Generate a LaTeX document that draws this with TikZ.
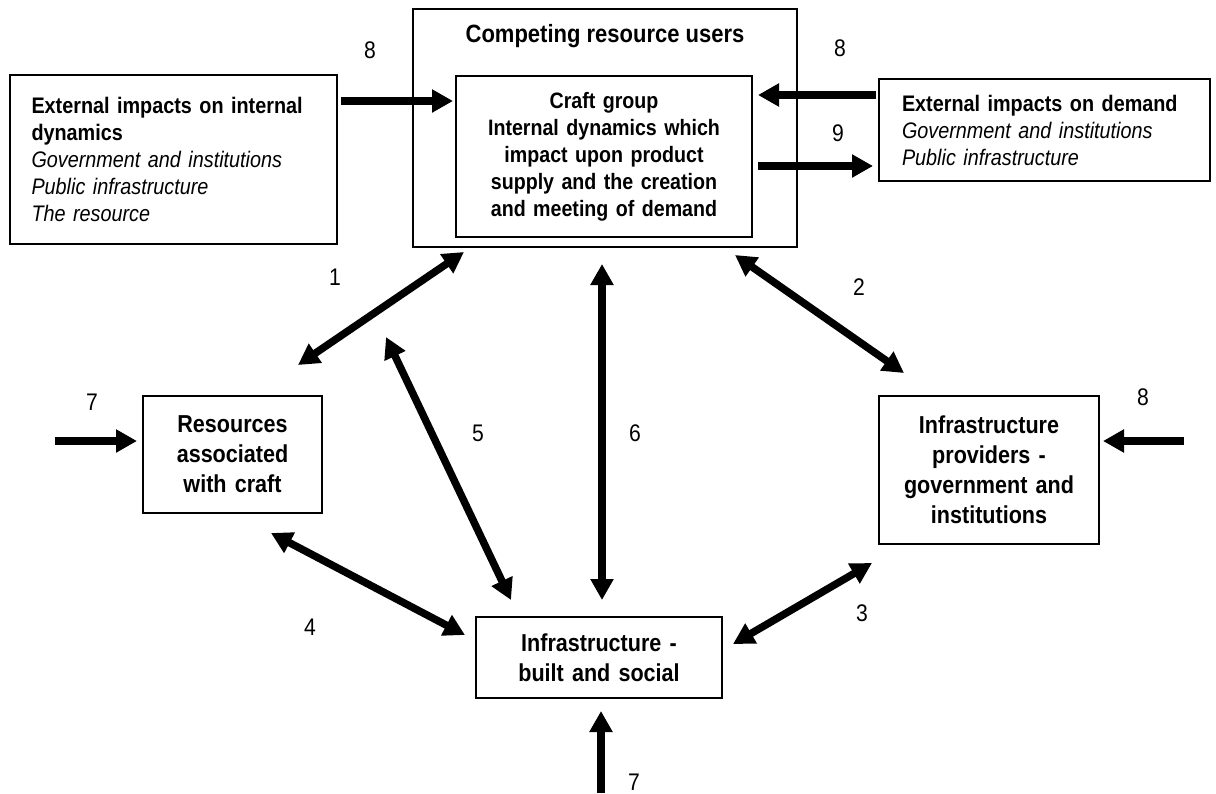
\documentclass[tikz,border=0pt]{standalone}
\usepackage{fontspec}
\setmainfont{Liberation Sans}[FakeStretch=0.88]
\usetikzlibrary{arrows.meta}
\begin{document}
\begin{tikzpicture}[x=1pt,y=-1pt,
  box/.style={draw, line width=1.6pt, inner sep=0pt, align=center},
  lowtext/.style={font=\bfseries\fontsize{24.5}{30}\selectfont},
  num/.style={font=\fontsize{24}{28}\selectfont, inner sep=0pt},
  tip/.style={Triangle[length=21pt,width=22pt]},
  flow/.style={line width=7.5pt, -{Triangle[length=21pt,width=22pt]}},
  both/.style={line width=7.5pt, {Triangle[length=21pt,width=22pt]}-{Triangle[length=21pt,width=22pt]}},
]
\useasboundingbox (0,0) rectangle (1216,793);

% boxes
\node[box, minimum width=384pt, minimum height=238pt] (outer) at (605,128) {};
\node[font=\bfseries\fontsize{25}{30}\selectfont, inner sep=0pt] (title) at (605,36) {Competing resource users};
\node[box, minimum width=296pt, minimum height=161pt, text width=290pt,
      font=\bfseries\fontsize{22.3}{27}\selectfont] (craft) at (604,156.5)
  {Craft group\\ Internal dynamics which\\ impact upon product\\ supply and the creation\\ and meeting of demand};
\node[box, minimum width=327pt, minimum height=169pt, text width=284pt, align=left,
      font=\fontsize{22.5}{27}\selectfont] (extL) at (173.5,159.5)
  {\textbf{\makebox[284pt][s]{External impacts on internal}}\\ \textbf{dynamics}\\
   \textit{Government and institutions}\\ \textit{Public infrastructure}\\ \textit{The resource}};
\node[box, minimum width=331pt, minimum height=102pt, text width=285pt, align=left,
      font=\fontsize{22.5}{27}\selectfont] (extR) at (1044.5,130)
  {\textbf{External impacts on demand}\\ \textit{Government and institutions}\\ \textit{Public infrastructure}};
\node[box, lowtext, minimum width=179pt, minimum height=117pt, text width=175pt] (res) at (232.5,454.5)
  {Resources\\ associated\\ with craft};
\node[box, lowtext, minimum width=220pt, minimum height=148pt, text width=215pt] (prov) at (989,470)
  {Infrastructure\\ providers -\\ government and\\ institutions};
\node[box, lowtext, minimum width=246pt, minimum height=81pt, text width=240pt] (built) at (599,657.5)
  {Infrastructure -\\ built and social};

% connector end points
\coordinate (l8a) at (341,101);  \coordinate (l8b) at (453,101);
\coordinate (r8a) at (876,95);   \coordinate (r8b) at (758,95);
\coordinate (r9a) at (758,166);  \coordinate (r9b) at (873,166);
\coordinate (c1a) at (298,365);  \coordinate (c1b) at (464,252);
\coordinate (c2a) at (735,255);  \coordinate (c2b) at (904,373);
\coordinate (c5a) at (386,337);  \coordinate (c5b) at (511,600);
\coordinate (c6a) at (602,264);  \coordinate (c6b) at (602,600);
\coordinate (c4a) at (271,533);  \coordinate (c4b) at (465,635);
\coordinate (c3a) at (733,644);  \coordinate (c3b) at (872,563);
\coordinate (i7a) at (55,441);   \coordinate (i7b) at (137,441);
\coordinate (p8a) at (1184,441); \coordinate (p8b) at (1103,441);
\coordinate (b7a) at (601,793);  \coordinate (b7b) at (601,711);

% connectors
\draw[flow] (l8a) -- (l8b);
\draw[flow] (r8a) -- (r8b);
\draw[flow] (r9a) -- (r9b);
\draw[both] (c1a) -- (c1b);
\draw[both] (c2a) -- (c2b);
\draw[both] (c5a) -- (c5b);
\draw[both] (c6a) -- (c6b);
\draw[both] (c4a) -- (c4b);
\draw[both] (c3a) -- (c3b);
\draw[flow] (i7a) -- (i7b);
\draw[flow] (p8a) -- (p8b);
\draw[flow] (b7a) -- (b7b);

% link numbers
\node[num] (n8l) at (370,50) {8};
\node[num] (n8r) at (840,48) {8};
\node[num] (n9) at (838,133) {9};
\node[num] (n1) at (335,277) {1};
\node[num] (n2) at (859,287) {2};
\node[num] (n5) at (478,433) {5};
\node[num] (n6) at (635,433) {6};
\node[num] (n7l) at (92,402) {7};
\node[num] (n8p) at (1143,397) {8};
\node[num] (n4) at (310,627) {4};
\node[num] (n3) at (862,613) {3};
\node[num] (n7b) at (634,782) {7};
\end{tikzpicture}
\end{document}
